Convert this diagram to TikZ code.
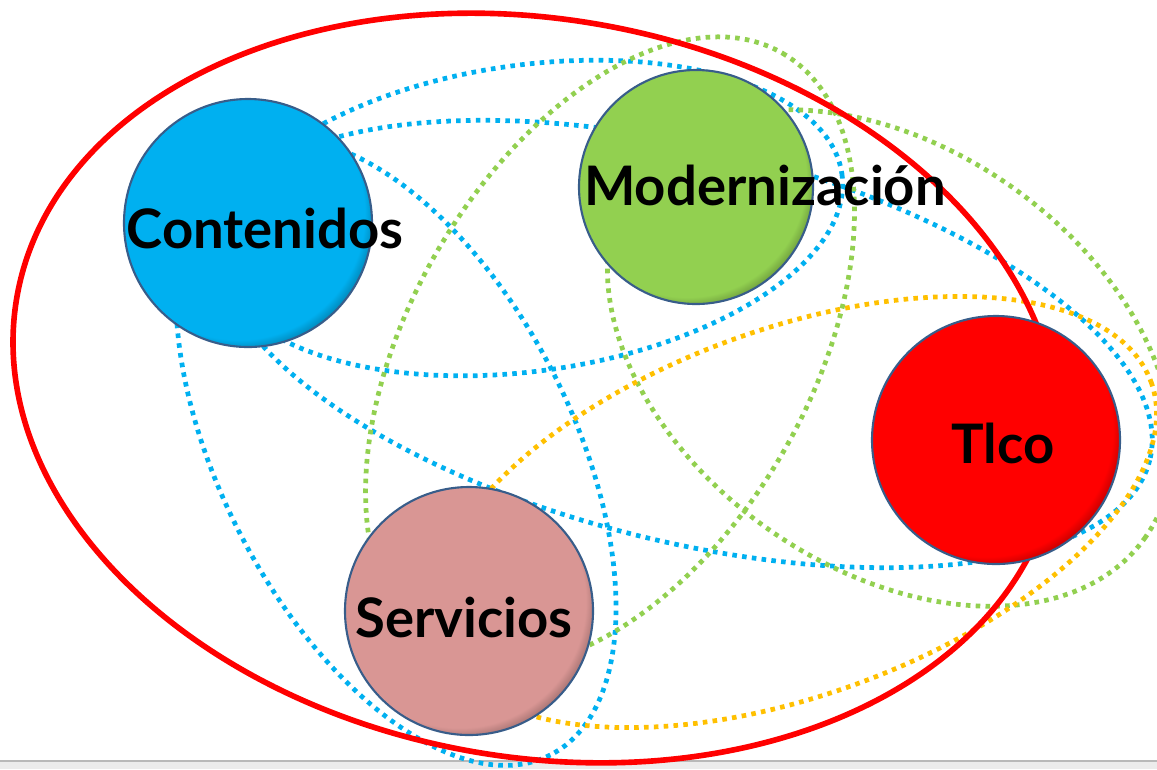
\documentclass[tikz,border=0pt]{standalone}
\usepackage{fontspec}
\setmainfont{Lato}
\usepackage{tikz}
\usetikzlibrary{positioning}

\definecolor{contblue}{HTML}{00B0F0}
\definecolor{modgreen}{HTML}{92D050}
\definecolor{tlcored}{HTML}{FF0000}
\definecolor{servpink}{HTML}{D99694}
\definecolor{ringorange}{HTML}{FFC000}
\definecolor{edgeblue}{HTML}{385D8A}

% inner shadow on the lower right rim of each circle
\pgfdeclareradialshading{contshade}{\pgfpoint{-4bp}{4bp}}{color(0bp)=(contblue); color(25.5bp)=(contblue); color(29.5bp)=(contblue!55!black); color(50bp)=(contblue!55!black)}
\pgfdeclareradialshading{modshade}{\pgfpoint{-4bp}{4bp}}{color(0bp)=(modgreen); color(25.5bp)=(modgreen); color(29.5bp)=(modgreen!55!black); color(50bp)=(modgreen!55!black)}
\pgfdeclareradialshading{tlcoshade}{\pgfpoint{-4bp}{4bp}}{color(0bp)=(tlcored); color(25.5bp)=(tlcored); color(29.5bp)=(tlcored!55!black); color(50bp)=(tlcored!55!black)}
\pgfdeclareradialshading{servshade}{\pgfpoint{-4bp}{4bp}}{color(0bp)=(servpink); color(25.5bp)=(servpink); color(29.5bp)=(servpink!55!black); color(50bp)=(servpink!55!black)}

\begin{document}
\begin{tikzpicture}[x=0.1mm, y=-0.1mm]
    % Define styles
    \tikzset{
        topic/.style={circle, draw=edgeblue, line width=0.6pt, minimum size=24.8mm, inner sep=0pt},
        lbl/.style={anchor=base, font=\bfseries\fontsize{15.5}{18}\selectfont},
        ring/.style={line width=1.35pt, dash pattern=on 1.3pt off 1.5pt},
        bigring/.style={draw=tlcored, line width=1.6pt}
    }
    \useasboundingbox (0,0) rectangle (1157,769);

    % Window edge at the bottom
    \fill [gray!15] (0,761) rectangle (1157,769);
    \draw [gray!55, line width=0.6pt] (0,761) -- (1157,761);

    % Dotted rings between pairs
    \draw [ring, draw=contblue, rotate around={8:(529,218)}] (529,218) ellipse [x radius=316, y radius=153];
    \draw [ring, draw=contblue, rotate around={-63:(396,452)}] (396,452) ellipse [x radius=340, y radius=176];
    \draw [ring, draw=contblue, rotate around={-14:(684,344)}] (684,344) ellipse [x radius=480, y radius=197];
    \draw [ring, draw=modgreen, rotate around={60:(610,352)}] (610,352) ellipse [x radius=345, y radius=200];
    \draw [ring, draw=modgreen, rotate around={-35:(890,358)}] (890,358) ellipse [x radius=312, y radius=210];
    \draw [ring, draw=ringorange, rotate around={20:(794,512)}] (794,512) ellipse [x radius=380, y radius=183];

    % Ring round everything
    \draw [bigring, rotate around={-10:(536,388)}] (536,388) ellipse [x radius=527, y radius=369];

    % Circles
    \node (cont) [topic, shading=contshade] at (248,223) {};
    \node (moder) [topic, shading=modshade, minimum size=23.4mm] at (696,187) {};
    \node (tlco) [topic, shading=tlcoshade] at (996,440) {};
    \node (serv) [topic, shading=servshade] at (469,611) {};

    % Labels
    \node (contlbl) [lbl] at (265,248) {Contenidos};
    \node (moderlbl) [lbl] at (765,205) {Modernización};
    \node (tlcolbl) [lbl] at (1003,463) {Tlco};
    \node (servlbl) [lbl] at (464,637) {Servicios};

\end{tikzpicture}
\end{document}
